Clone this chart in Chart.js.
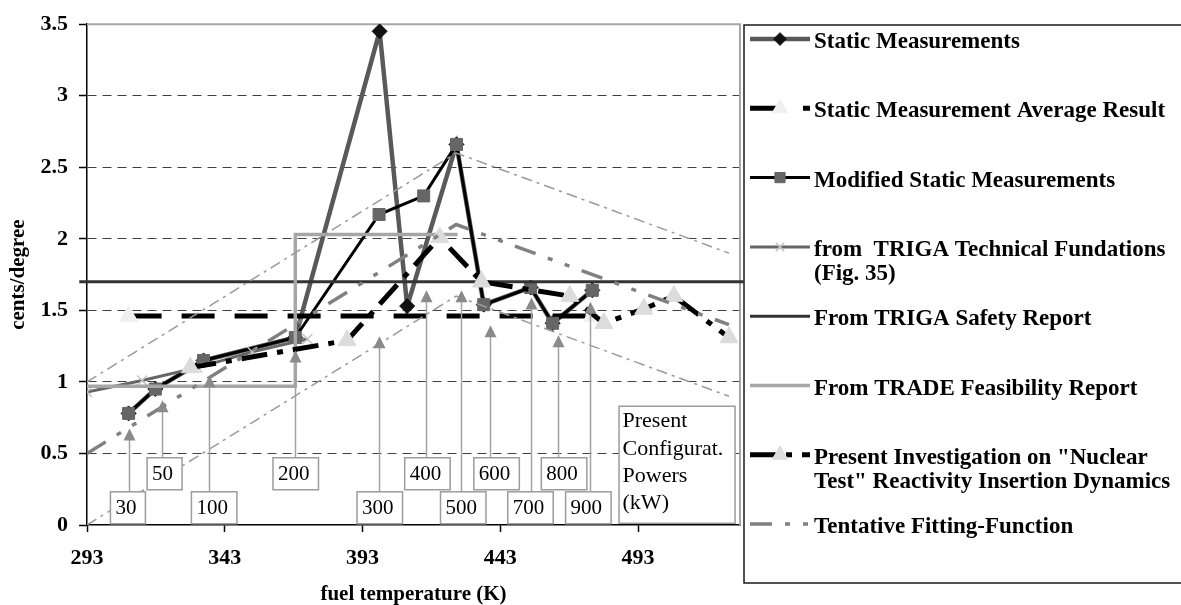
<!DOCTYPE html>
<html><head><meta charset="utf-8">
<script src="https://cdn.jsdelivr.net/npm/chart.js@4.4.0/dist/chart.umd.min.js"></script>
<style>html,body{margin:0;padding:0;background:#fff;overflow:hidden}canvas{display:block}</style>
</head><body>
<canvas id="c" width="1181" height="605"></canvas>
<script>
// ---------- data (fuel temperature in K, cents/degree) ----------
const xTickValues = [293, 343, 393, 443, 493];
const yTickValues = [0, 0.5, 1, 1.5, 2, 2.5, 3, 3.5];
const seriesNames = [
  'Static Measurements',
  'Static Measurement Average Result',
  'Modified Static Measurements',
  'from  TRIGA Technical Fundations (Fig. 35)',
  'From TRIGA Safety Report',
  'From TRADE Feasibility Report',
  'Present Investigation on "Nuclear Test" Reactivity Insertion Dynamics',
  'Tentative Fitting-Function'
];
const staticT   = [308.1, 317.8, 335.3, 368.6, 399.2, 409.2, 427.1, 437.0, 454.0, 462.0, 476.4];
const staticV   = [0.78, 0.95, 1.15, 1.31, 3.45, 1.53, 2.66, 1.54, 1.66, 1.41, 1.64];
const averageT  = [308.1, 476.4];
const averageV  = [1.46, 1.46];
const modifiedT = [308.1, 317.8, 335.3, 368.6, 399.0, 415.2, 427.1, 437.0, 454.0, 462.0, 476.4];
const modifiedV = [0.78, 0.95, 1.15, 1.31, 2.17, 2.30, 2.66, 1.54, 1.66, 1.41, 1.64];
const trigaTechT = [293, 313, 333, 353, 373];
const trigaTechV = [0.93, 1.01, 1.10, 1.21, 1.30];
const safetyT   = [290.2, 531.3];
const safetyV   = [1.70, 1.70];
const tradeT    = [293, 368.6, 368.6, 427.5];
const tradeV    = [0.97, 0.97, 2.03, 2.03];
const presentT  = [330.5, 387.4, 421.0, 436.2, 468.2, 480.6, 495.1, 506.0, 526.0];
const presentV  = [1.10, 1.29, 2.01, 1.70, 1.60, 1.41, 1.51, 1.60, 1.31];
const fitT      = [293, 427, 526];
const fitV      = [0.50, 2.10, 1.40];
const bandUpperV = [1.00, 2.60, 1.90];
const bandLowerV = [0.00, 1.60, 0.90];
// present configuration powers (kW) and the temperature each one points at
const powerLabels = ['30', '50', '100', '200', '300', '400', '500', '600', '700', '800', '900'];
const powerT      = [308.1, 320.2, 337.2, 368.6, 399.1, 416.2, 428.8, 439.2, 454.3, 463.9, 475.5];
const powerTipV   = [0.675, 0.872, 1.047, 1.22, 1.32, 1.64, 1.64, 1.396, 1.59, 1.326, 1.56];

// ---------- annotation layout (not data) ----------
const powerBoxLeftT = [301.5, 314.8, 330.9, 360.5, 391.0, 408.3, 421.3, 433.4, 445.7, 457.9, 466.7];
const powerBoxRow   = [0, 1, 0, 1, 0, 1, 0, 1, 0, 1, 0];   // 0 = lower row, 1 = upper row
const rowTopV = [0.232, 0.47];
const noteBox = {leftT: 486.1, rightT: 528.2, topV: 0.83, bottomV: 0.012,
  lines: ['Present', 'Configurat.', 'Powers', '(kW)']};

const SERIF = '"Liberation Serif", "Times New Roman", serif';
Chart.defaults.font.family = SERIF;
Chart.defaults.color = '#000';

function pts(xs, ys) { return xs.map((x, i) => ({x: x, y: ys[i]})); }

const datasets = [
  {label: seriesNames[0], data: pts(staticT, staticV), borderColor: '#595959', borderWidth: 4.5,
   pointStyle: 'rectRot', pointRadius: 7.5, pointBackgroundColor: '#111', pointBorderColor: '#111', pointBorderWidth: 1, order: 10},
  {label: seriesNames[1], data: pts(averageT, averageV), borderColor: '#000', borderWidth: 5, borderDash: [33, 20],
   pointStyle: 'triangle', pointRadius: 10.5, pointBackgroundColor: '#f0f0f0', pointBorderColor: '#f0f0f0', pointBorderWidth: 1, order: 9},
  {label: seriesNames[2], data: pts(modifiedT, modifiedV), borderColor: '#000', borderWidth: 3,
   pointStyle: 'rect', pointRadius: 8.5, pointBackgroundColor: '#666', pointBorderColor: '#666', pointBorderWidth: 1, order: 8},
  {label: seriesNames[3], data: pts(trigaTechT, trigaTechV), borderColor: '#666', borderWidth: 3,
   pointStyle: 'crossRot', pointRadius: 7, pointBackgroundColor: '#c4c4c4', pointBorderColor: '#c4c4c4', pointBorderWidth: 1.5, order: 7},
  {label: seriesNames[4], data: pts(safetyT, safetyV), borderColor: '#333', borderWidth: 3, pointRadius: 0, clip: false, order: 6},
  {label: seriesNames[5], data: pts(tradeT, tradeV), borderColor: '#a6a6a6', borderWidth: 3.5, pointRadius: 0, order: 5},
  {label: seriesNames[6], data: pts(presentT, presentV), borderColor: '#000', borderWidth: 5, borderDash: [26, 10, 6, 10],
   pointStyle: 'triangle', pointRadius: 10.5, pointBackgroundColor: '#dcdcdc', pointBorderColor: '#dcdcdc', pointBorderWidth: 1, order: 4},
  {label: seriesNames[7], data: pts(fitT, fitV), borderColor: '#808080', borderWidth: 3.5, borderDash: [22, 13, 5, 13, 5, 13], pointRadius: 0, order: 3},
  {label: 'upper band', data: pts(fitT, bandUpperV), borderColor: '#9a9a9a', borderWidth: 1.5, borderDash: [11, 5, 3, 5], pointRadius: 0, order: 2},
  {label: 'lower band', data: pts(fitT, bandLowerV), borderColor: '#9a9a9a', borderWidth: 1.5, borderDash: [11, 5, 3, 5], pointRadius: 0, order: 1}
];
datasets.forEach(d => { d.fill = false; d.tension = 0; d.showLine = true; });

const legendRows = [
  {ds: 0, lines: ['Static Measurements']},
  {ds: 1, lines: ['Static Measurement Average Result']},
  {ds: 2, lines: ['Modified Static Measurements']},
  {ds: 3, lines: ['from  TRIGA Technical Fundations', '(Fig. 35)']},
  {ds: 4, lines: ['From TRIGA Safety Report']},
  {ds: 5, lines: ['From TRADE Feasibility Report']},
  {ds: 6, lines: ['Present Investigation on "Nuclear', 'Test" Reactivity Insertion Dynamics']},
  {ds: 7, lines: ['Tentative Fitting-Function']}
];

function drawMarker(ctx, style, x, y, r, fill, stroke, lw) {
  ctx.save();
  ctx.setLineDash([]);
  ctx.fillStyle = fill; ctx.strokeStyle = stroke; ctx.lineWidth = lw || 1;
  ctx.beginPath();
  if (style === 'rectRot') {
    ctx.moveTo(x, y - r); ctx.lineTo(x + r, y); ctx.lineTo(x, y + r); ctx.lineTo(x - r, y); ctx.closePath();
    ctx.fill(); ctx.stroke();
  } else if (style === 'rect') {
    const s = r * Math.SQRT1_2; ctx.rect(x - s, y - s, 2 * s, 2 * s); ctx.fill(); ctx.stroke();
  } else if (style === 'triangle') {
    ctx.moveTo(x, y - r); ctx.lineTo(x + 0.866 * r, y + 0.5 * r); ctx.lineTo(x - 0.866 * r, y + 0.5 * r); ctx.closePath();
    ctx.fill(); ctx.stroke();
  } else if (style === 'crossRot') {
    const s = r * Math.SQRT1_2;
    ctx.moveTo(x - s, y - s); ctx.lineTo(x + s, y + s); ctx.moveTo(x + s, y - s); ctx.lineTo(x - s, y + s); ctx.stroke();
  }
  ctx.restore();
}

const framePlugin = {
  id: 'frame',
  beforeDatasetsDraw(chart) {
    const a = chart.chartArea, ctx = chart.ctx;
    ctx.save();
    ctx.strokeStyle = '#a6a6a6'; ctx.lineWidth = 2;
    ctx.beginPath();
    ctx.moveTo(a.left, a.top); ctx.lineTo(a.right, a.top); ctx.lineTo(a.right, a.bottom);
    ctx.stroke();
    ctx.restore();
  },
  afterDatasetsDraw(chart) {
    const ctx = chart.ctx, xs = chart.scales.x, ys = chart.scales.y;
    ctx.save();
    ctx.font = '21px ' + SERIF;
    powerLabels.forEach((lab, i) => {
      const ax = Math.round(xs.getPixelForValue(powerT[i])) + 0.5;
      const tip = ys.getPixelForValue(powerTipV[i]);
      const left = xs.getPixelForValue(powerBoxLeftT[i]);
      const top = ys.getPixelForValue(rowTopV[powerBoxRow[i]]);
      const w = ctx.measureText(lab).width + 14, h = 32;
      ctx.strokeStyle = '#a3a3a3'; ctx.lineWidth = 1.5;
      ctx.beginPath(); ctx.moveTo(ax, top); ctx.lineTo(ax, tip + 10); ctx.stroke();
      ctx.fillStyle = '#8a8a8a';
      ctx.beginPath(); ctx.moveTo(ax, tip); ctx.lineTo(ax + 6, tip + 12); ctx.lineTo(ax - 6, tip + 12); ctx.closePath(); ctx.fill();
      ctx.fillStyle = '#fff'; ctx.fillRect(left, top, w, h);
      ctx.strokeStyle = '#9c9c9c'; ctx.lineWidth = 1.5; ctx.strokeRect(left, top, w, h);
      ctx.fillStyle = '#000'; ctx.textAlign = 'left'; ctx.textBaseline = 'middle';
      ctx.fillText(lab, left + 5, top + h / 2 + 1);
    });
    const bl = xs.getPixelForValue(noteBox.leftT), br = xs.getPixelForValue(noteBox.rightT);
    const bt = ys.getPixelForValue(noteBox.topV), bb = ys.getPixelForValue(noteBox.bottomV);
    ctx.fillStyle = '#fff'; ctx.fillRect(bl, bt, br - bl, bb - bt);
    ctx.strokeStyle = '#9c9c9c'; ctx.lineWidth = 1.5; ctx.strokeRect(bl, bt, br - bl, bb - bt);
    ctx.fillStyle = '#000'; ctx.font = '22px ' + SERIF; ctx.textBaseline = 'alphabetic';
    noteBox.lines.forEach((t, j) => ctx.fillText(t, bl + 3.5, bt + 21 + j * 27.4));
    ctx.restore();
  }
};

const legendPlugin = {
  id: 'customLegend',
  afterDraw(chart) {
    const ctx = chart.ctx;
    ctx.save();
    ctx.strokeStyle = '#1a1a1a'; ctx.lineWidth = 1.5;
    ctx.strokeRect(744, 25, 470, 558);
    legendRows.forEach((row, i) => {
      const ds = chart.data.datasets[row.ds];
      const y = 39 + i * 69.3;
      ctx.save();
      ctx.strokeStyle = ds.borderColor; ctx.lineWidth = ds.borderWidth;
      ctx.setLineDash(ds.borderDash || []);
      ctx.beginPath(); ctx.moveTo(750, y); ctx.lineTo(810, y); ctx.stroke();
      ctx.restore();
      if (ds.pointRadius > 0) {
        drawMarker(ctx, ds.pointStyle, 780, y, ds.pointRadius * 0.85, ds.pointBackgroundColor, ds.pointBorderColor, ds.pointBorderWidth);
      }
      ctx.fillStyle = '#000'; ctx.font = 'bold 23px ' + SERIF;
      ctx.textAlign = 'left'; ctx.textBaseline = 'alphabetic';
      row.lines.forEach((t, j) => ctx.fillText(t, 814, y + 9 + j * 24.5));
    });
    ctx.restore();
  }
};

new Chart(document.getElementById('c'), {
  type: 'line',
  data: {datasets: datasets},
  plugins: [framePlugin, legendPlugin],
  options: {
    responsive: false,
    animation: false,
    devicePixelRatio: 1,
    events: [],
    layout: {padding: {left: 0, right: 441, top: 23, bottom: 0}},
    plugins: {legend: {display: false}, tooltip: {enabled: false}, title: {display: false}},
    scales: {
      x: {
        type: 'linear', min: 293, max: 530,
        afterBuildTicks: (s) => { s.ticks = xTickValues.map(v => ({value: v})); },
        afterFit: (s) => { s.height = 80; },
        grid: {drawOnChartArea: false, drawTicks: true, tickLength: 7, tickColor: '#000', tickWidth: 1.5},
        border: {color: '#000', width: 1.5},
        ticks: {font: {size: 22, weight: 'bold'}, color: '#000', padding: 13, maxRotation: 0,
                callback: (v) => String(v)},
        title: {display: true, text: 'fuel temperature (K)', font: {size: 21, weight: 'bold', lineHeight: 1}, color: '#000', padding: {top: 0, bottom: 0}}
      },
      y: {
        min: 0, max: 3.5,
        afterBuildTicks: (s) => { s.ticks = yTickValues.map(v => ({value: v})); },
        afterFit: (s) => { s.width = 87; },
        grid: {
          color: (c) => (c.tick && (c.tick.value === 0 || c.tick.value === 3.5)) ? 'rgba(0,0,0,0)' : '#404040',
          lineWidth: 1, tickLength: 8, tickColor: '#000', tickWidth: 1.5
        },
        border: {color: '#000', width: 1.5, dash: [9, 6]},
        ticks: {font: {size: 22, weight: 'bold'}, color: '#000', padding: 11,
                callback: (v) => String(v)},
        title: {display: true, text: 'cents/degree', font: {size: 21, weight: 'bold'}, color: '#000', padding: {top: 6, bottom: 0}}
      }
    }
  }
});
</script>
</body></html>
